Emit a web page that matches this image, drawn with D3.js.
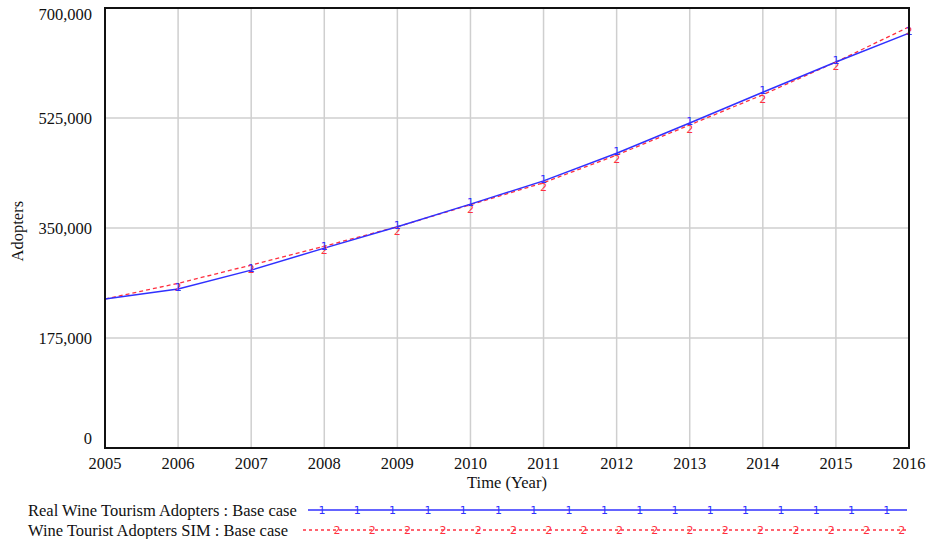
<!DOCTYPE html>
<html>
<head>
<meta charset="utf-8">
<script src="https://cdn.jsdelivr.net/npm/d3@7"></script>
<style>
  body { margin: 0; background: #fff; }
  text { font-family: "Liberation Serif", "Times New Roman", serif; fill: #111; }
  text.mark { font-family: "DejaVu Sans", sans-serif; }
</style>
</head>
<body>
<div id="chart"></div>
<script>
const years = [2005, 2006, 2007, 2008, 2009, 2010, 2011, 2012, 2013, 2014, 2015, 2016];
const realAdopters = [237000, 253000, 283000, 318000, 352000, 388000, 425000, 469000, 517000, 566000, 614000, 660000];
const simAdopters = [237000, 262000, 291000, 321000, 352000, 387000, 422000, 466000, 514000, 562000, 614000, 670000];
const yTicks = [0, 175000, 350000, 525000, 700000];
const seriesNames = ["Real Wine Tourism Adopters : Base case", "Wine Tourist Adopters SIM : Base case"];

const width = 927, height = 539;
const margin = {top: 8, right: 18, bottom: 91, left: 105};

const svg = d3.select("#chart").append("svg")
    .attr("width", width)
    .attr("height", height);

const x = d3.scaleLinear().domain([2005, 2016]).range([margin.left, width - margin.right]);
const y = d3.scaleLinear().domain([0, 700000]).range([height - margin.bottom, margin.top]);

// grid
svg.append("g").selectAll("line")
    .data(years.slice(1, -1))
    .join("line")
    .attr("x1", d => x(d)).attr("x2", d => x(d))
    .attr("y1", margin.top).attr("y2", height - margin.bottom)
    .attr("stroke", "#cfcfcf").attr("stroke-width", 1.5);

svg.append("g").selectAll("line")
    .data(yTicks.slice(1, -1))
    .join("line")
    .attr("x1", margin.left).attr("x2", width - margin.right)
    .attr("y1", d => y(d)).attr("y2", d => y(d))
    .attr("stroke", "#cfcfcf").attr("stroke-width", 1.5);

// y tick labels (ends nudged inward like the original)
svg.append("g").selectAll("text")
    .data(yTicks)
    .join("text")
    .attr("x", margin.left - 13)
    .attr("y", d => y(d) + (d === 0 ? -4 : d === 700000 ? 12 : 6))
    .attr("text-anchor", "end")
    .attr("font-size", 16.5)
    .text(d3.format(","));

// x tick labels
svg.append("g").selectAll("text")
    .data(years)
    .join("text")
    .attr("x", d => x(d))
    .attr("y", height - margin.bottom + 21)
    .attr("text-anchor", "middle")
    .attr("font-size", 16.5)
    .text(d => d);

svg.append("text")
    .attr("x", (margin.left + width - margin.right) / 2)
    .attr("y", height - margin.bottom + 40)
    .attr("text-anchor", "middle")
    .attr("font-size", 16.5)
    .text("Time (Year)");

svg.append("text")
    .attr("transform", `translate(23, ${y(345000)}) rotate(-90)`)
    .attr("text-anchor", "middle")
    .attr("font-size", 16.5)
    .text("Adopters");

// lines
const line = d3.line().x((d, i) => x(years[i])).y(d => y(d));

svg.append("path")
    .datum(simAdopters)
    .attr("d", line)
    .attr("fill", "none")
    .attr("stroke", "#ff3040")
    .attr("stroke-width", 1.3)
    .attr("stroke-dasharray", "4,3");

svg.append("path")
    .datum(realAdopters)
    .attr("d", line)
    .attr("fill", "none")
    .attr("stroke", "#3030ff")
    .attr("stroke-width", 1.5);

// number markers (none drawn at the first point)
svg.append("g").selectAll("text")
    .data(simAdopters.slice(1))
    .join("text")
    .attr("class", "mark")
    .attr("x", (d, i) => x(years[i + 1]))
    .attr("y", d => y(d) + 8)
    .attr("text-anchor", "middle")
    .attr("font-size", 11)
    .style("fill", "#ff3040")
    .text("2");

svg.append("g").selectAll("text")
    .data(realAdopters.slice(1))
    .join("text")
    .attr("class", "mark")
    .attr("x", (d, i) => x(years[i + 1]))
    .attr("y", d => y(d) + 2)
    .attr("text-anchor", "middle")
    .attr("font-size", 11)
    .style("fill", "#3030ff")
    .text("1");

// frame
svg.append("rect")
    .attr("x", margin.left).attr("y", margin.top)
    .attr("width", width - margin.left - margin.right)
    .attr("height", height - margin.top - margin.bottom)
    .attr("fill", "none")
    .attr("stroke", "#111")
    .attr("stroke-width", 2);

// legend
const legend = svg.append("g");
const legY = [510, 530];
const legColors = ["#3030ff", "#ff3040"];

legend.selectAll("text.name")
    .data(seriesNames)
    .join("text")
    .attr("class", "name")
    .attr("x", 28)
    .attr("y", (d, i) => legY[i] + 6)
    .attr("font-size", 16.5)
    .text(d => d);

legend.append("line")
    .attr("x1", 308).attr("x2", 907)
    .attr("y1", legY[0]).attr("y2", legY[0])
    .attr("stroke", legColors[0]).attr("stroke-width", 1.5);

legend.append("line")
    .attr("x1", 303).attr("x2", 907)
    .attr("y1", legY[1]).attr("y2", legY[1])
    .attr("stroke", legColors[1]).attr("stroke-width", 1.3)
    .attr("stroke-dasharray", "3,3");

legend.selectAll("text.m1")
    .data(d3.range(17))
    .join("text")
    .attr("class", "mark m1")
    .attr("x", k => 322 + k * 35.3)
    .attr("y", legY[0] + 4)
    .attr("text-anchor", "middle")
    .attr("font-size", 11)
    .style("fill", legColors[0])
    .text("1");

legend.selectAll("text.m2")
    .data(d3.range(17))
    .join("text")
    .attr("class", "mark m2")
    .attr("x", k => 337 + k * 35.3)
    .attr("y", legY[1] + 4)
    .attr("text-anchor", "middle")
    .attr("font-size", 11)
    .style("fill", legColors[1])
    .text("2");
</script>
</body>
</html>
